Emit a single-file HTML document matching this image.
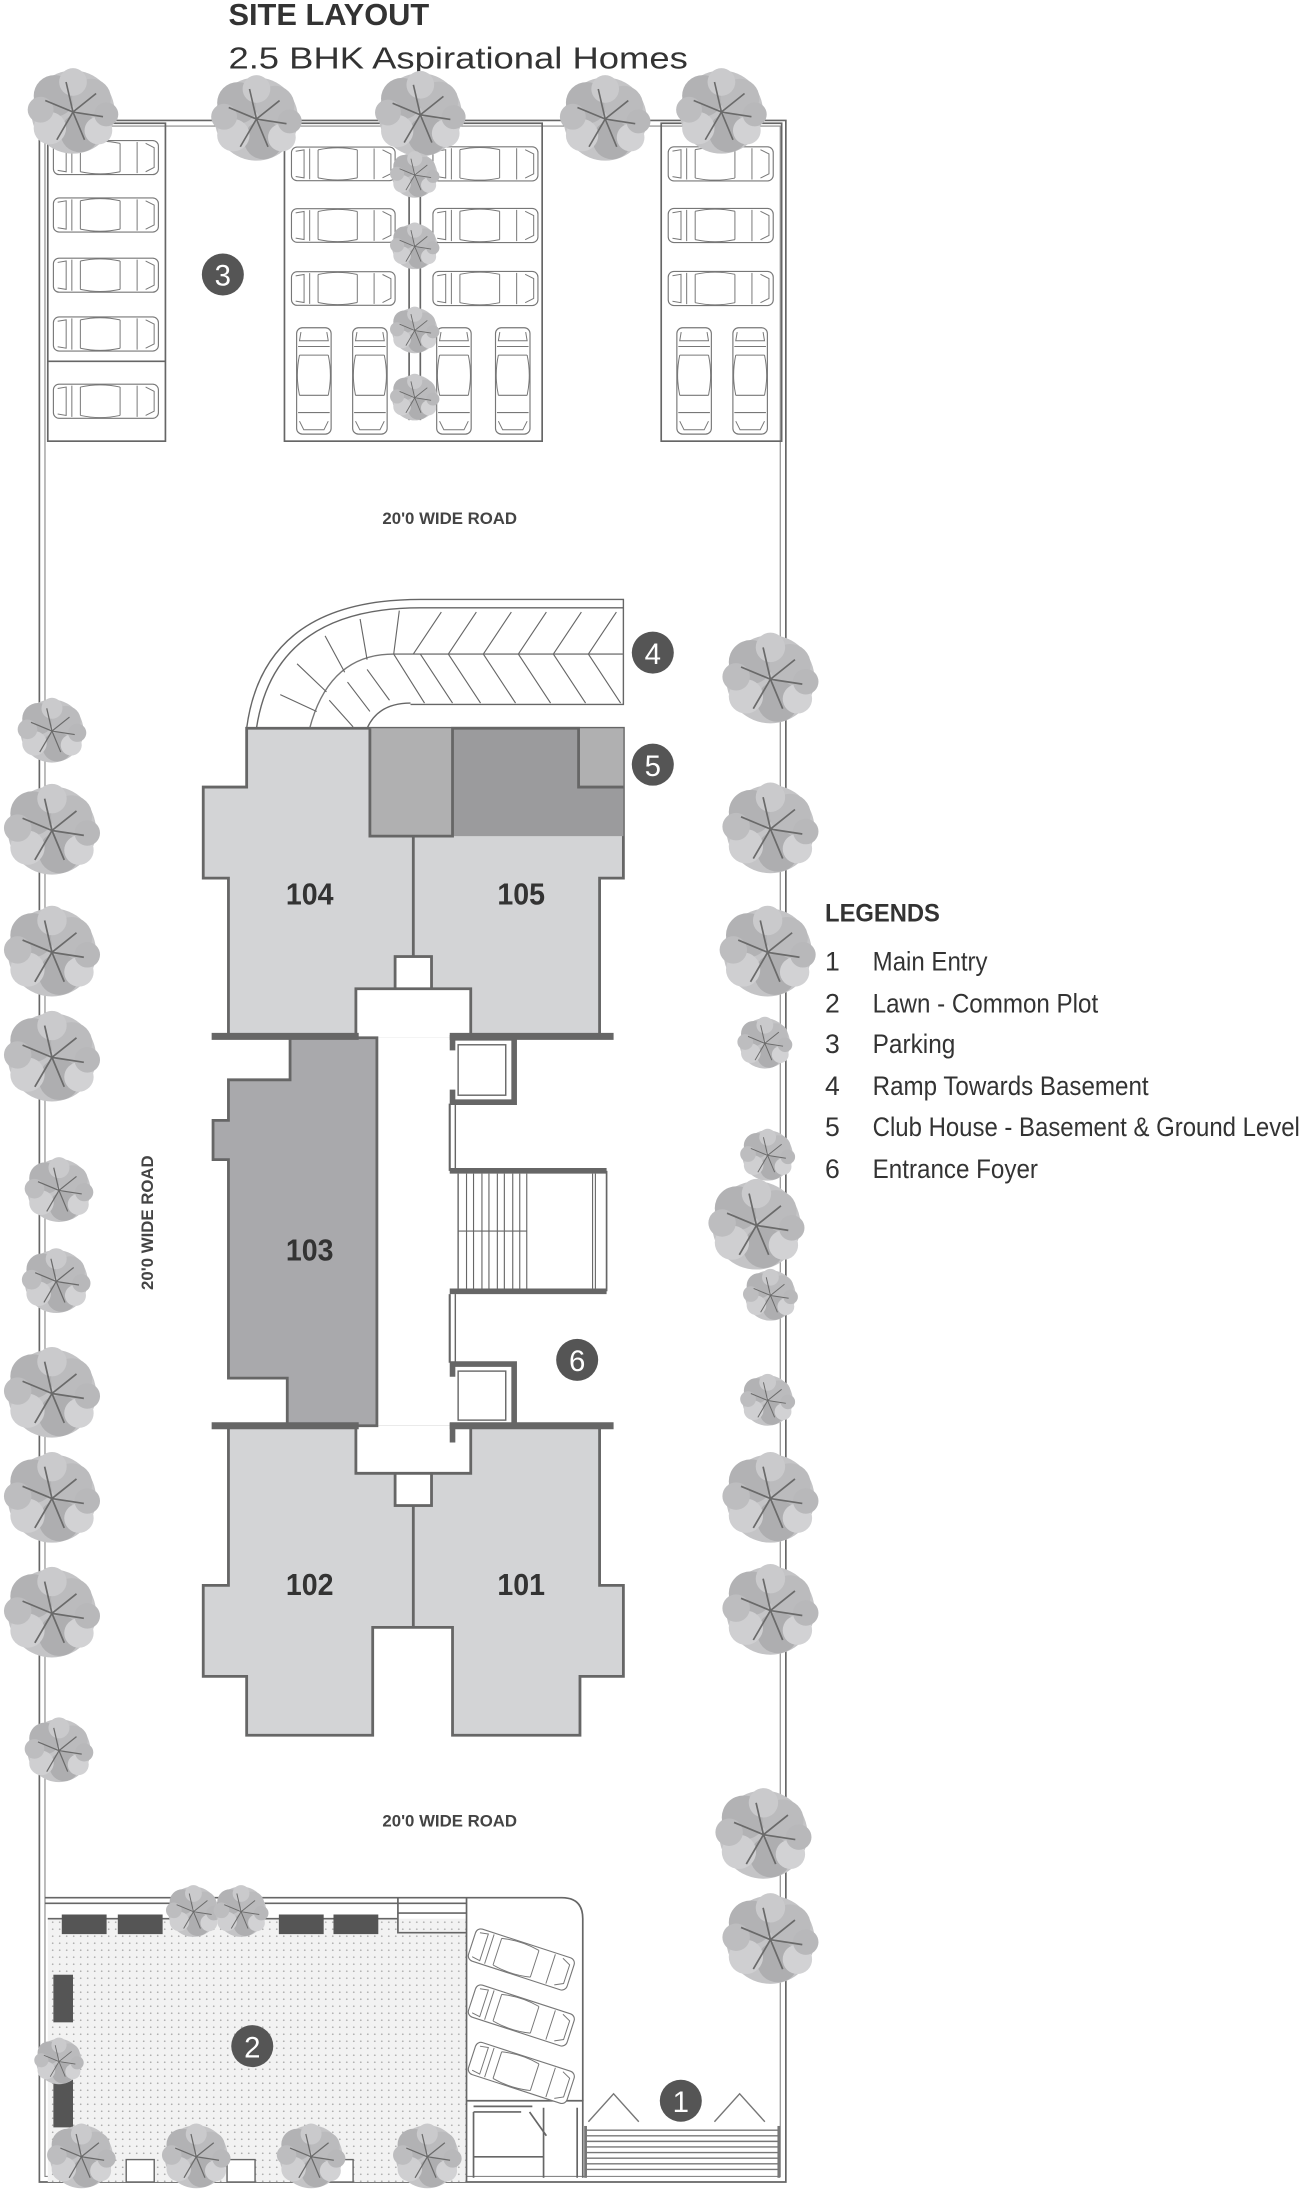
<!DOCTYPE html>
<html><head><meta charset="utf-8"><style>
html,body{margin:0;padding:0;background:#fff;}
svg{display:block;}
text{font-family:"Liberation Sans",sans-serif;}
</style></head><body>
<svg width="1300" height="2196" viewBox="0 0 928 1568" xmlns="http://www.w3.org/2000/svg">
<defs>
<symbol id="tree" viewBox="-1 -1 2 2">
<circle cx="0" cy="0" r="0.9" fill="#c4c4c6"/>
<circle cx="-0.4" cy="-0.35" r="0.45" fill="#b2b2b4"/>
<circle cx="0.4" cy="-0.3" r="0.42" fill="#bbbbbd"/>
<circle cx="0.15" cy="0.45" r="0.42" fill="#aeaeb0"/>
<circle cx="-0.5" cy="0.35" r="0.35" fill="#cfcfd1"/>
<circle cx="0.55" cy="0.4" r="0.3" fill="#d2d2d4"/>
<circle cx="0" cy="-0.65" r="0.3" fill="#cacacc"/>
<circle cx="-0.7" cy="-0.05" r="0.28" fill="#bdbdbf"/>
<circle cx="0.72" cy="0.05" r="0.26" fill="#b8b8ba"/>
<path d="M0 0 L-0.6 -0.25 M0 0 L0.5 -0.4 M0 0 L0.25 0.6 M0 0 L-0.35 0.6 M0 0 L0.65 0.1 M0 0 L-0.15 -0.65" stroke="#6a6a6a" stroke-width="0.035" fill="none"/>
</symbol>
<symbol id="carH" viewBox="0 0 76 26">
<rect x="1" y="1" width="74" height="24" rx="4" fill="#fff" stroke="#777" stroke-width="0.8"/>
<path d="M14 2 V24 M20 3 V23 M48 3 V23 M60 2 V24 M20 3 Q34 0 48 3 M20 23 Q34 26 48 23 M66 3 L72 6 V20 L66 23 M4 4 L10 3 V23 L4 22" stroke="#777" stroke-width="0.7" fill="none"/>
</symbol>
<symbol id="carV" viewBox="0 0 26 76">
<rect x="1" y="1" width="24" height="74" rx="4" fill="#fff" stroke="#777" stroke-width="0.8"/>
<path d="M2 14 H24 M3 20 H23 M3 48 H23 M2 60 H24 M3 20 Q0 34 3 48 M23 20 Q26 34 23 48 M3 66 L6 72 H20 L23 66 M4 4 L3 10 H23 L22 4" stroke="#777" stroke-width="0.7" fill="none"/>
</symbol>
<pattern id="dots" width="5" height="5" patternUnits="userSpaceOnUse">
<rect width="5" height="5" fill="#f2f2f2"/><circle cx="2.5" cy="2.5" r="0.6" fill="#aaa"/>
</pattern>
</defs>

<!-- Title -->
<text x="163" y="18" font-size="22" font-weight="bold" fill="#333">SITE LAYOUT</text>
<text x="163" y="49" font-size="22" fill="#333" textLength="328" lengthAdjust="spacingAndGlyphs">2.5 BHK Aspirational Homes</text>

<!-- Site boundary -->
<path d="M28 86 H561 V1558 H28 Z" fill="none" stroke="#666" stroke-width="1.2"/>
<path d="M32 90 H557 V1554 H32 Z" fill="none" stroke="#888" stroke-width="0.8"/>

<!-- Parking boxes -->
<g fill="none" stroke="#666" stroke-width="1.2">
<rect x="34" y="88" width="84" height="227"/>
<line x1="34" y1="258" x2="118" y2="258"/>
<rect x="203" y="88" width="184" height="227"/>
<rect x="472" y="88" width="86" height="227"/>
<line x1="292" y1="120" x2="292" y2="300"/><line x1="300" y1="120" x2="300" y2="300"/>
</g>
<use href="#carH" x="37" y="99" width="77" height="27"/>
<use href="#carH" x="37" y="140" width="77" height="27"/>
<use href="#carH" x="37" y="183" width="77" height="27"/>
<use href="#carH" x="37" y="225" width="77" height="27"/>
<use href="#carH" x="37" y="273" width="77" height="27"/>
<use href="#carH" x="207" y="103" width="76" height="28"/>
<use href="#carH" x="207" y="147" width="76" height="28"/>
<use href="#carH" x="207" y="192" width="76" height="28"/>
<use href="#carH" x="308" y="103" width="77" height="28"/>
<use href="#carH" x="308" y="147" width="77" height="28"/>
<use href="#carH" x="308" y="192" width="77" height="28"/>
<use href="#carV" x="210" y="233" width="28" height="78"/>
<use href="#carV" x="250" y="233" width="28" height="78"/>
<use href="#carV" x="310" y="233" width="28" height="78"/>
<use href="#carV" x="352" y="233" width="28" height="78"/>
<use href="#carH" x="476" y="103" width="77" height="28"/>
<use href="#carH" x="476" y="147" width="77" height="28"/>
<use href="#carH" x="476" y="192" width="77" height="28"/>
<use href="#carV" x="482" y="233" width="27" height="78"/>
<use href="#carV" x="522" y="233" width="27" height="78"/>

<!-- Roads text -->
<text x="321" y="374" font-size="12" font-weight="bold" fill="#444" text-anchor="middle">20'0 WIDE ROAD</text>
<text x="321" y="1304" font-size="12" font-weight="bold" fill="#444" text-anchor="middle">20'0 WIDE ROAD</text>
<text transform="translate(109,873) rotate(-90)" font-size="12" font-weight="bold" fill="#444" text-anchor="middle">20'0 WIDE ROAD</text>

<!-- Ramp -->
<g fill="none" stroke="#666" stroke-width="1">
<path d="M176 520 Q188 428 300 428 H445 V503 H293"/>
<path d="M183 520 Q196 434 300 434 H445"/>
<path d="M262 520 Q270 502 293 502"/>
<path d="M221 520 Q235 467 281 467 H445" stroke="#777"/>
<g stroke="#666" stroke-width="0.8">
<path d="M295 467 L315 437 M320 467 L340 437 M345 467 L365 437 M370 467 L390 437 M395 467 L415 437 M420 467 L440 437"/>
<path d="M281 467 L303 502 M300 467 L323 502 M320 467 L343 502 M345 467 L368 502 M370 467 L393 502 M395 467 L418 502 M420 467 L443 502"/>
<path d="M281 467 L285 436 M262 471 L257 442 M246 480 L232 454 M233 494 L212 474 M226 508 L200 496"/>
<path d="M235 500 L252 519 M248 487 L264 508 M262 478 L278 500"/>
</g>
</g>

<!-- Upper building 104/105 -->
<path d="M176 520 H445 V627 H428 V740 H163 V627 H145 V562 H176 Z" fill="#d3d4d6" stroke="#666" stroke-width="2"/>
<rect x="264" y="520" width="59" height="77" fill="#b0b0b1"/>
<path d="M323 520 H413 V562 H445 V597 H323 Z" fill="#9b9b9d"/>
<rect x="413" y="520" width="32" height="42" fill="#b0b0b1"/>
<path d="M264 520 V597 H323 V520 H413 V562 H445" fill="none" stroke="#666" stroke-width="2"/>
<line x1="295" y1="597" x2="295" y2="740" stroke="#666" stroke-width="2"/>

<!-- Lower building 102/101 -->
<path d="M163 1018 H428 V1132 H445 V1197 H414 V1239 H323 V1162 H266 V1239 H176 V1197 H145 V1132 H163 Z" fill="#d3d4d6" stroke="#666" stroke-width="2"/>
<line x1="295" y1="1075" x2="295" y2="1162" stroke="#666" stroke-width="2"/>

<!-- Corridor -->
<rect x="282" y="683" width="26" height="24" fill="#fff" stroke="#666" stroke-width="2"/>
<rect x="282" y="1051" width="26" height="24" fill="#fff" stroke="#666" stroke-width="2"/>
<path d="M254 741 V706 H336 V741" fill="#fff" stroke="#666" stroke-width="2"/>
<path d="M254 1018 V1052 H336 V1018" fill="#fff" stroke="#666" stroke-width="2"/>
<rect x="255" y="741" width="80" height="277" fill="#fff"/>

<!-- Unit 103 -->
<path d="M207 741 H269 V1018 H205 V984 H163 V828 H152 V800 H163 V771 H207 Z" fill="#a9a9ac" stroke="#666" stroke-width="2"/>

<!-- thick floor walls -->
<g stroke="#666" stroke-width="5">
<line x1="151" y1="740" x2="256" y2="740"/><line x1="321" y1="740" x2="438" y2="740"/>
<line x1="151" y1="1018" x2="256" y2="1018"/><line x1="321" y1="1018" x2="438" y2="1018"/>
</g>

<!-- Lifts -->
<g fill="none" stroke="#666">
<path d="M323 750 V741 H367 V787 H323 V778" stroke-width="4"/>
<rect x="327" y="746" width="34" height="36" stroke-width="1"/>
<path d="M323 1030 V1018 H367 V974 H323 V983" stroke-width="4"/>
<rect x="327" y="979" width="34" height="35" stroke-width="1"/>
<line x1="321" y1="788" x2="321" y2="836" stroke-width="1.5"/>
<line x1="325" y1="788" x2="325" y2="836" stroke-width="1"/>
<line x1="321" y1="924" x2="321" y2="973" stroke-width="1.5"/>
<line x1="325" y1="924" x2="325" y2="973" stroke-width="1"/>
</g>
<!-- Stair -->
<g fill="none" stroke="#666">
<line x1="321" y1="836" x2="433" y2="836" stroke-width="4"/>
<line x1="321" y1="922" x2="433" y2="922" stroke-width="4"/>
<line x1="433" y1="836" x2="433" y2="922" stroke-width="1.2"/>
<line x1="423" y1="838" x2="423" y2="920" stroke-width="0.8"/>
<line x1="425" y1="838" x2="425" y2="920" stroke-width="0.8"/>
<line x1="327" y1="838" x2="327" y2="920" stroke-width="1"/>
<line x1="327" y1="879" x2="376" y2="879" stroke-width="0.8"/>
<path d="M333 838V920 M338 838V920 M344 838V920 M349 838V920 M355 838V920 M360 838V920 M366 838V920 M371 838V920 M376 838V920" stroke-width="0.8"/>
</g>

<!-- Unit labels -->
<g font-size="22" font-weight="bold" fill="#333" text-anchor="middle">
<text x="221" y="646" textLength="34" lengthAdjust="spacingAndGlyphs">104</text>
<text x="372" y="646" textLength="34" lengthAdjust="spacingAndGlyphs">105</text>
<text x="221" y="900" textLength="34" lengthAdjust="spacingAndGlyphs">103</text>
<text x="221" y="1139" textLength="34" lengthAdjust="spacingAndGlyphs">102</text>
<text x="372" y="1139" textLength="34" lengthAdjust="spacingAndGlyphs">101</text>
</g>

<!-- Bottom: lawn -->
<rect x="34" y="1370" width="299" height="188" fill="url(#dots)"/>
<g fill="none" stroke="#666" stroke-width="1.2">
<path d="M32 1355 H401 Q416 1355 416 1370 V1500"/>
<line x1="32" y1="1359" x2="333" y2="1359"/>
<line x1="34" y1="1370" x2="284" y2="1370"/>
<path d="M284 1355 V1380 H333"/>
<line x1="333" y1="1355" x2="333" y2="1558"/>
<line x1="284" y1="1366" x2="333" y2="1366"/>
<path d="M333 1500 H416 V1555"/>
<path d="M338 1504 H380 M338 1508 V1555 M338 1508 H372 M338 1540 H388 M378 1508 L390 1525"/>
<line x1="388" y1="1505" x2="388" y2="1555"/>
<line x1="412" y1="1505" x2="412" y2="1555"/>
</g>
<g fill="#555">
<rect x="44" y="1367" width="32" height="14"/><rect x="84" y="1367" width="32" height="14"/>
<rect x="199" y="1367" width="32" height="14"/><rect x="238" y="1367" width="32" height="14"/>
<rect x="38" y="1410" width="14" height="34"/><rect x="38" y="1485" width="14" height="34"/>
</g>
<g fill="#fff" stroke="#666" stroke-width="1">
<rect x="90" y="1542" width="20" height="16"/><rect x="162" y="1542" width="20" height="16"/><rect x="232" y="1542" width="20" height="16"/>
</g>
<!-- bottom parking cars (angled) -->
<g transform="translate(340,1375) rotate(18)"><use href="#carH" x="0" y="0" width="76" height="26"/></g>
<g transform="translate(340,1415) rotate(18)"><use href="#carH" x="0" y="0" width="76" height="26"/></g>
<g transform="translate(340,1456) rotate(18)"><use href="#carH" x="0" y="0" width="76" height="26"/></g>
<!-- entry -->
<g fill="none" stroke="#777" stroke-width="1">
<path d="M420 1515 L438 1495 L456 1515"/><path d="M510 1515 L528 1495 L546 1515"/>
<path d="M418 1521 H556 M418 1525 H556 M418 1529 H556 M418 1533 H556 M418 1537 H556 M418 1541 H556 M418 1545 H556 M418 1549 H556"/>
<line x1="418" y1="1518" x2="418" y2="1555" stroke-width="2"/>
<line x1="556" y1="1518" x2="556" y2="1555" stroke-width="2"/>
</g>

<!-- Trees -->
<g>
<use href="#tree" x="19" y="47" width="66" height="66"/>
<use href="#tree" x="150" y="52" width="66" height="66"/>
<use href="#tree" x="267" y="49" width="66" height="66"/>
<use href="#tree" x="399" y="52" width="66" height="66"/>
<use href="#tree" x="482" y="47" width="66" height="66"/>
<use href="#tree" x="278" y="107" width="36" height="36"/>
<use href="#tree" x="278" y="158" width="36" height="36"/>
<use href="#tree" x="278" y="218" width="36" height="36"/>
<use href="#tree" x="278" y="266" width="36" height="36"/>
<use href="#tree" x="12" y="497" width="50" height="50"/>
<use href="#tree" x="2" y="558" width="70" height="70"/>
<use href="#tree" x="2" y="645" width="70" height="70"/>
<use href="#tree" x="2" y="720" width="70" height="70"/>
<use href="#tree" x="17" y="825" width="50" height="50"/>
<use href="#tree" x="15" y="890" width="50" height="50"/>
<use href="#tree" x="2" y="960" width="70" height="70"/>
<use href="#tree" x="2" y="1035" width="70" height="70"/>
<use href="#tree" x="2" y="1117" width="70" height="70"/>
<use href="#tree" x="17" y="1225" width="50" height="50"/>
<use href="#tree" x="515" y="450" width="70" height="70"/>
<use href="#tree" x="515" y="557" width="70" height="70"/>
<use href="#tree" x="513" y="645" width="70" height="70"/>
<use href="#tree" x="526" y="725" width="40" height="40"/>
<use href="#tree" x="528" y="805" width="40" height="40"/>
<use href="#tree" x="505" y="840" width="70" height="70"/>
<use href="#tree" x="530" y="905" width="40" height="40"/>
<use href="#tree" x="528" y="980" width="40" height="40"/>
<use href="#tree" x="515" y="1035" width="70" height="70"/>
<use href="#tree" x="515" y="1115" width="70" height="70"/>
<use href="#tree" x="510" y="1275" width="70" height="70"/>
<use href="#tree" x="515" y="1350" width="70" height="70"/>
<use href="#tree" x="118" y="1345" width="40" height="40"/>
<use href="#tree" x="152" y="1345" width="40" height="40"/>
<use href="#tree" x="24" y="1454" width="36" height="36"/>
<use href="#tree" x="33" y="1515" width="50" height="50"/>
<use href="#tree" x="115" y="1515" width="50" height="50"/>
<use href="#tree" x="197" y="1515" width="50" height="50"/>
<use href="#tree" x="280" y="1515" width="50" height="50"/>
</g>

<!-- Markers -->
<g font-size="21" fill="#fff" text-anchor="middle">
<circle cx="159" cy="196" r="15" fill="#555"/><text x="159" y="204">3</text>
<circle cx="466" cy="466" r="15" fill="#555"/><text x="466" y="474">4</text>
<circle cx="466" cy="546" r="15" fill="#555"/><text x="466" y="554">5</text>
<circle cx="412" cy="971" r="15" fill="#555"/><text x="412" y="979">6</text>
<circle cx="180" cy="1461" r="15" fill="#555"/><text x="180" y="1469">2</text>
<circle cx="486" cy="1500" r="15" fill="#555"/><text x="486" y="1508">1</text>
</g>

<!-- Legend -->
<text x="589" y="658" font-size="18" font-weight="bold" fill="#333" textLength="82" lengthAdjust="spacingAndGlyphs">LEGENDS</text>
<g font-size="19" fill="#333">
<text x="589" y="693">1</text><text x="623" y="693" textLength="82" lengthAdjust="spacingAndGlyphs">Main Entry</text>
<text x="589" y="723">2</text><text x="623" y="723" textLength="161" lengthAdjust="spacingAndGlyphs">Lawn - Common Plot</text>
<text x="589" y="752">3</text><text x="623" y="752" textLength="59" lengthAdjust="spacingAndGlyphs">Parking</text>
<text x="589" y="782">4</text><text x="623" y="782" textLength="197" lengthAdjust="spacingAndGlyphs">Ramp Towards Basement</text>
<text x="589" y="811">5</text><text x="623" y="811" textLength="305" lengthAdjust="spacingAndGlyphs">Club House - Basement &amp; Ground Level</text>
<text x="589" y="841">6</text><text x="623" y="841" textLength="118" lengthAdjust="spacingAndGlyphs">Entrance Foyer</text>
</g>
</svg>
</body></html>
